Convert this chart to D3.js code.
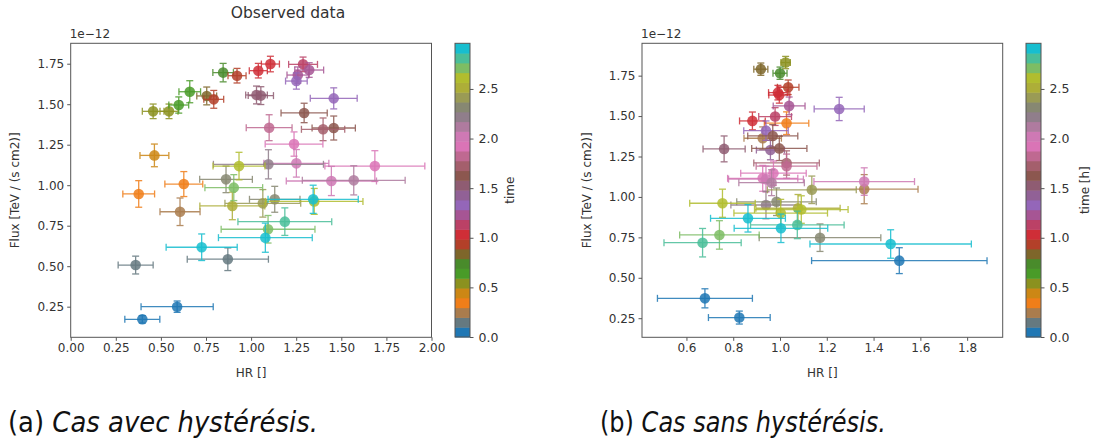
<!DOCTYPE html>
<html><head><meta charset="utf-8">
<script src="https://cdn.jsdelivr.net/npm/d3@7/dist/d3.min.js"></script>
<style>body{margin:0;background:#fff;} svg{display:block;}</style>
</head><body>
<svg id="c" width="1099" height="441"></svg>
<script>
// ---------- data: panel (a) with hysteresis ----------
const timeA    = [0.00,0.06,0.12,0.19,0.25,0.31,0.37,0.44,0.52,0.58,0.64,0.68,0.74,0.84,0.89,0.93,0.99,1.04,1.13,1.20,1.27,1.33,1.38,1.50,1.56,1.60,1.65,1.70,1.80,1.90,1.97,2.00,2.05,2.15,2.20,2.30,2.36,2.45,2.50,2.60,2.65,2.70,2.75,2.82,2.87,2.92,2.96];
const hrA      = [0.397,0.590,0.360,0.871,0.606,0.377,0.627,0.464,0.545,0.457,0.599,0.660,0.845,0.754,0.793,0.922,1.040,1.107,1.288,1.322,1.259,1.251,1.458,1.030,1.054,1.294,1.458,1.399,1.100,1.238,1.686,1.251,1.445,1.569,1.096,0.861,1.131,1.065,0.896,0.933,1.350,1.094,0.904,1.187,1.344,1.079,0.726];
const hrErrA   = [0.097,0.200,0.097,0.225,0.111,0.088,0.105,0.080,0.050,0.060,0.055,0.060,0.057,0.055,0.055,0.050,0.050,0.050,0.080,0.080,0.060,0.060,0.130,0.060,0.070,0.128,0.120,0.120,0.127,0.160,0.277,0.180,0.250,0.285,0.305,0.146,0.140,0.210,0.180,0.144,0.270,0.260,0.160,0.260,0.250,0.260,0.197];
const fluxA    = [0.172,0.250,0.507,0.543,0.836,0.946,1.007,1.184,1.456,1.456,1.495,1.577,1.695,1.551,1.530,1.676,1.707,1.748,1.746,1.711,1.680,1.643,1.536,1.557,1.553,1.446,1.353,1.345,1.355,1.254,1.118,1.135,1.026,1.030,1.129,1.036,0.913,0.888,0.872,1.118,0.900,0.728,0.985,0.775,0.913,0.676,0.617];
const fluxErrA = [0.023,0.035,0.055,0.070,0.085,0.082,0.077,0.070,0.045,0.045,0.050,0.068,0.057,0.055,0.055,0.045,0.045,0.048,0.045,0.045,0.050,0.050,0.065,0.055,0.055,0.060,0.074,0.070,0.080,0.075,0.095,0.085,0.090,0.090,0.090,0.082,0.080,0.085,0.085,0.085,0.080,0.085,0.080,0.085,0.087,0.090,0.082];

// ---------- data: panel (b) without hysteresis ----------
const timeB    = [0.00,0.04,0.09,0.20,0.28,0.34,0.50,0.78,0.88,0.97,1.00,1.03,1.08,1.13,1.22,1.30,1.33,1.40,1.55,1.62,1.66,1.75,1.82,1.90,1.97,2.00,2.05,2.12,2.20,2.28,2.32,2.40,2.50,2.58,2.63,2.66,2.72,2.78,2.85,2.89,2.93,2.96];
const hrB      = [0.826,0.679,1.510,1.360,0.926,1.028,1.024,1.000,0.918,1.035,0.991,0.882,0.997,0.979,1.039,0.940,1.253,0.959,0.761,0.969,0.997,1.028,1.028,0.972,0.926,1.360,0.940,0.964,0.940,1.171,0.985,1.136,1.077,0.754,1.003,1.091,0.741,0.669,1.074,1.004,0.863,1.473];
const hrErrB   = [0.132,0.203,0.375,0.230,0.080,0.095,0.020,0.030,0.030,0.046,0.040,0.055,0.045,0.070,0.068,0.095,0.107,0.060,0.090,0.107,0.118,0.140,0.130,0.140,0.150,0.215,0.160,0.140,0.150,0.260,0.170,0.190,0.180,0.140,0.200,0.200,0.170,0.165,0.200,0.200,0.160,0.345];
const fluxB    = [0.254,0.373,0.606,1.048,1.363,1.456,1.831,1.765,1.790,1.678,1.645,1.470,1.630,1.497,1.563,1.410,1.544,1.290,1.297,1.377,1.300,1.210,1.190,1.147,1.115,1.095,1.110,1.088,0.950,0.748,0.970,1.044,0.930,0.961,0.900,0.922,0.765,0.717,0.827,0.806,0.868,0.709];
const fluxErrB = [0.040,0.059,0.080,0.090,0.070,0.070,0.038,0.038,0.038,0.045,0.045,0.055,0.050,0.055,0.055,0.060,0.072,0.060,0.080,0.070,0.075,0.075,0.075,0.075,0.080,0.085,0.080,0.080,0.085,0.085,0.085,0.085,0.085,0.087,0.085,0.085,0.088,0.088,0.085,0.088,0.085,0.088];

// ---------- ticks / labels ----------
const xTicksA = [0.00,0.25,0.50,0.75,1.00,1.25,1.50,1.75,2.00];
const xTicksB = [0.6,0.8,1.0,1.2,1.4,1.6,1.8];
const yTicks  = [0.25,0.50,0.75,1.00,1.25,1.50,1.75];
const cbTicks = [0.0,0.5,1.0,1.5,2.0,2.5];
const tMax = 2.96;
const tab10 = ["#1f77b4","#ff7f0e","#2ca02c","#d62728","#9467bd","#8c564b","#e377c2","#7f7f7f","#bcbd22","#17becf"];
const nLevels = 30;

const seg = d3.scaleLinear().domain(d3.range(10).map(i=>i/9)).range(tab10).interpolate(d3.interpolateRgb);
const norm = d3.scaleLinear().domain([0,tMax]).range([0,1]).clamp(true);
function cmap(t){
  let i = Math.floor(norm(t)*nLevels); if(i>=nLevels) i=nLevels-1; if(i<0) i=0;
  return seg(i/(nLevels-1));
}

const svg = d3.select("#c");
const FONT = "DejaVu Sans, sans-serif";
const TXT = "#333";
const SP = "#555";

function panel(cfg){
  const g = svg.append("g");
  const x = d3.scaleLinear().domain(cfg.xd).range([cfg.x0,cfg.x1]);
  const y = d3.scaleLinear().domain(cfg.yd).range([cfg.y1,cfg.y0]);
  const data = cfg.t.map((t,i)=>({t, x:cfg.hr[i], xe:cfg.hre[i], y:cfg.fl[i], ye:cfg.fle[i]}));
  const pts = g.append("g");
  const cap = 3.5;
  data.forEach(d=>{
    const c = cmap(d.t);
    const e = pts.append("g").attr("stroke",c).attr("stroke-width",1.3).attr("opacity",0.85).attr("fill","none");
    const cx=x(d.x), cy=y(d.y), xl=x(d.x-d.xe), xr=x(d.x+d.xe), yt=y(d.y+d.ye), yb=y(d.y-d.ye);
    e.append("line").attr("x1",xl).attr("x2",xr).attr("y1",cy).attr("y2",cy);
    e.append("line").attr("x1",cx).attr("x2",cx).attr("y1",yt).attr("y2",yb);
    e.append("line").attr("x1",xl).attr("x2",xl).attr("y1",cy-cap).attr("y2",cy+cap);
    e.append("line").attr("x1",xr).attr("x2",xr).attr("y1",cy-cap).attr("y2",cy+cap);
    e.append("line").attr("x1",cx-cap).attr("x2",cx+cap).attr("y1",yt).attr("y2",yt);
    e.append("line").attr("x1",cx-cap).attr("x2",cx+cap).attr("y1",yb).attr("y2",yb);
    pts.append("circle").attr("cx",cx).attr("cy",cy).attr("r",5.3).attr("fill",c).attr("opacity",0.85);
  });
  const xa = g.append("g").attr("transform",`translate(0,${cfg.y1})`)
    .call(d3.axisBottom(x).tickValues(cfg.xt).tickSize(3.5).tickPadding(3).tickFormat(cfg.xf));
  const ya = g.append("g").attr("transform",`translate(${cfg.x0},0)`)
    .call(d3.axisLeft(y).tickValues(yTicks).tickSize(3.5).tickPadding(3).tickFormat(d3.format(".2f")));
  [xa,ya].forEach(a=>{
    a.select(".domain").remove();
    a.selectAll(".tick line").attr("stroke",SP);
    a.selectAll(".tick text").attr("fill",TXT).style("font-family",FONT).style("font-size","12px");
  });
  g.append("rect").attr("x",cfg.x0).attr("y",cfg.y0).attr("width",cfg.x1-cfg.x0).attr("height",cfg.y1-cfg.y0)
    .attr("fill","none").attr("stroke",SP).attr("stroke-width",1);
  g.append("text").attr("x",cfg.x0-1).attr("y",cfg.y0-5).text("1e\u221212")
    .attr("fill",TXT).style("font-family",FONT).style("font-size","12px");
  g.append("text").attr("x",(cfg.x0+cfg.x1)/2).attr("y",377).attr("text-anchor","middle").text("HR []")
    .attr("fill",TXT).style("font-family",FONT).style("font-size","12px");
  g.append("text").attr("transform",`translate(${cfg.ylx},${(cfg.y0+cfg.y1)/2}) rotate(-90)`).attr("text-anchor","middle")
    .text("Flux [TeV / (s cm2)]").attr("fill",TXT).style("font-family",FONT).style("font-size","12px");
  const cy = d3.scaleLinear().domain([0,tMax]).range([337,cfg.y0]);
  const cb = g.append("g");
  for(let i=0;i<nLevels;i++){
    const t0=i*tMax/nLevels, t1=(i+1)*tMax/nLevels;
    cb.append("rect").attr("x",cfg.cbx).attr("width",15).attr("y",cy(t1)).attr("height",cy(t0)-cy(t1)+0.5)
      .attr("fill",seg(i/(nLevels-1)));
  }
  cb.append("rect").attr("x",cfg.cbx).attr("y",cfg.y0).attr("width",15).attr("height",337-cfg.y0)
    .attr("fill","none").attr("stroke",SP).attr("stroke-width",1);
  const ca = cb.append("g").attr("transform",`translate(${cfg.cbx+15},0)`)
    .call(d3.axisRight(cy).tickValues(cbTicks).tickSize(3.5).tickPadding(5).tickFormat(d3.format(".1f")));
  ca.select(".domain").remove();
  ca.selectAll(".tick line").attr("stroke",SP);
  ca.selectAll(".tick text").attr("fill",TXT).style("font-family",FONT).style("font-size","12.5px");
  cb.append("text").attr("transform",`translate(${cfg.cblx},${(cfg.y0+337)/2}) rotate(-90)`).attr("text-anchor","middle")
    .text(cfg.cbl).attr("fill",TXT).style("font-family",FONT).style("font-size","12px");
}

panel({x0:70.7,x1:431.5,y0:43.3,y1:337.3,xd:[0,2],yd:[0.061,1.876],xt:xTicksA,xf:d3.format(".2f"),
  t:timeA,hr:hrA,hre:hrErrA,fl:fluxA,fle:fluxErrA,ylx:19,cbx:455,cblx:514,cbl:"time"});
panel({x0:642,x1:1002.7,y0:43.3,y1:337.3,xd:[0.410,1.952],yd:[0.132,1.950],xt:xTicksB,xf:d3.format(".1f"),
  t:timeB,hr:hrB,hre:hrErrB,fl:fluxB,fle:fluxErrB,ylx:591,cbx:1026,cblx:1089,cbl:"time [h]"});

svg.append("text").attr("x",288).attr("y",18).attr("text-anchor","middle").text("Observed data")
  .attr("fill",TXT).style("font-family",FONT).style("font-size","15.5px");

// captions: taller, narrow sans look (scaled horizontally to the reference width)
function caption(x, lab, rest, width){
  const t = svg.append("text").attr("x",0).attr("y",0).attr("fill","#111")
    .style("font-family",FONT).style("font-size","28px");
  t.append("tspan").text(lab+" ");
  t.append("tspan").style("font-style","italic").text(rest);
  const w = t.node().getBBox().width;
  t.attr("transform",`translate(${x},432) scale(${(width/w).toFixed(4)},1)`);
}
caption(8,"(a)","Cas avec hystérésis.",310);
caption(600,"(b)","Cas sans hystérésis.",286);
</script>
</body></html>
